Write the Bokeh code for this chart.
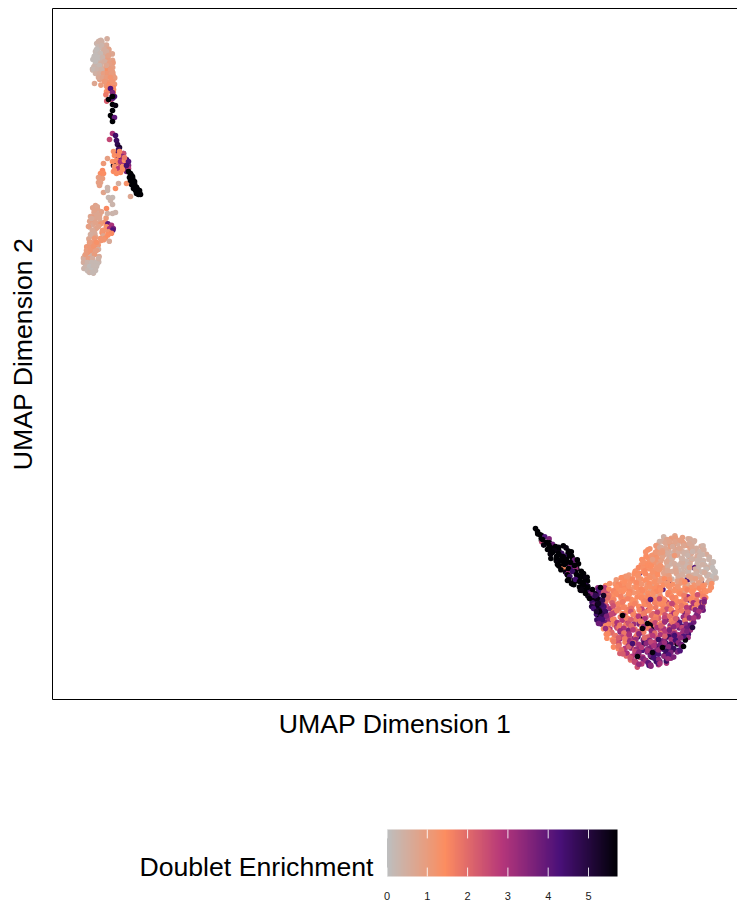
import numpy as np
from bokeh.plotting import figure
from bokeh.layouts import column
from bokeh.models import Range1d, LinearAxis, FixedTicker, LinearColorMapper, ColumnDataSource
from bokeh.core.properties import value
from bokeh.embed import file_html
from bokeh.resources import INLINE

FONT = "Liberation Sans"

# ---------- palette stops (enrichment value, colour) ----------
stop_vals = [0, 1.43, 2.86, 4.29, 5.72]
stop_rgb = [(190, 190, 190), (253, 141, 96), (181, 54, 122), (74, 16, 121), (0, 0, 4)]
tick_vals = [0, 1, 2, 3, 4, 5]

# ---------- main lobe: rows of cells ----------
blob_y = [162, 158, 154, 150, 146, 142, 138, 134, 130, 126, 122, 118, 114, 110, 106, 102, 98, 94, 90, 86, 82, 78, 74, 70, 66, 62, 58, 54, 50, 46, 42, 38, 34]
blob_x = [
 [612,618,624,630,636],
 [607,613,619,625,631,637,642],
 [603,609,616,621,627,634,640,647],
 [599,605,611,617,624,630,636,643,651],
 [594,600,607,613,619,626,632,638,645,654],
 [592,598,604,610,616,622,629,635,641,647,656],
 [590,596,602,608,614,620,627,633,639,646,652,658],
 [588,594,600,606,613,619,625,632,638,644,651,659],
 [584,590,597,603,609,616,622,628,635,641,647,653,661],
 [578,586,592,599,605,611,618,623,630,636,642,649,655,661],
 [570,577,584,590,596,603,609,615,621,628,634,640,647,653,660],
 [563,571,578,584,591,597,603,610,616,623,629,635,641,648,654,661],
 [554,561,568,574,581,587,593,600,606,612,618,625,631,637,644,650,658],
 [547,555,562,568,574,580,586,593,599,605,612,618,624,631,637,643,650,657],
 [544,550,557,563,570,576,582,589,595,601,608,614,620,627,633,639,646,655],
 [542,548,554,561,567,574,580,586,592,599,605,611,618,624,630,637,643,649,654],
 [542,547,553,560,566,572,578,585,591,597,604,610,616,622,629,635,641,647,652],
 [543,549,555,561,568,574,580,587,593,599,605,612,618,624,630,637,643,651],
 [545,550,556,563,569,575,581,588,594,600,607,613,619,625,632,638,644,649],
 [544,549,556,562,568,574,581,587,593,599,606,612,618,625,631,637,645],
 [545,551,557,563,570,576,582,588,595,601,607,613,620,626,632,639,644],
 [546,552,558,565,571,577,583,590,596,602,608,615,621,627,634,642],
 [548,554,560,566,573,579,585,591,598,604,610,616,623,629,635,639],
 [551,557,563,569,575,582,588,594,600,607,613,619,625,632,637],
 [553,560,566,572,578,584,591,597,603,609,616,622,628,635],
 [556,562,568,575,581,587,593,600,606,612,618,625,631,634],
 [559,565,571,577,584,590,596,602,609,615,621,627,632],
 [561,568,574,580,586,593,599,605,611,618,624,630],
 [565,571,577,584,590,596,602,609,615,621,627],
 [569,575,581,587,594,600,606,612,618,624],
 [573,579,586,592,598,604,610,616,620],
 [578,585,591,597,603,609,614],
 [584,590,595,600,606],
]
blob_v = [
 [.4,.9,.8,.9,.6],
 [.3,.5,1.1,.9,1.0,.7,.5],
 [1.0,.4,.7,1.1,.6,.9,.5,.6],
 [1.2,1.1,.6,.5,1.0,.4,.8,.5,.7],
 [1.3,1.2,1.1,.6,.4,.7,.5,1.0,.4,.6],
 [1.3,1.2,1.3,.9,.5,.6,.4,.8,.5,.3,.5],
 [1.4,1.3,1.2,1.0,.4,.6,.5,.3,.9,.3,.4,.6],
 [1.3,1.4,1.1,1.3,.8,.4,.7,.3,.5,.4,.3,.2],
 [1.2,1.5,1.3,1.2,1.1,.6,.5,.3,.6,4.2,.3,.5,.2],
 [1.1,4.2,1.4,1.2,1.3,1.0,.5,.7,.4,.3,.5,.3,.4,.1],
 [1.3,1.2,1.4,1.3,1.1,1.3,.9,.6,.4,.5,.3,.7,.4,.3,.1],
 [1.1,1.4,1.3,1.2,1.4,.9,1.3,1.2,4.6,.7,.6,4.3,.5,4.8,.6,.4],
 [1.4,1.2,1.5,1.3,1.1,1.4,1.2,.8,1.3,1.0,1.2,.9,1.1,.7,1.0,.8,1.1],
 [3.4,2.5,1.4,1.3,1.5,1.2,1.4,1.3,.9,1.4,4.2,1.1,1.3,1.2,1.0,1.4,1.5,1.3],
 [4.6,3.8,1.6,1.3,1.4,1.5,1.2,1.4,.8,1.3,1.1,1.4,1.2,1.3,1.0,1.3,1.2,1.4],
 [5.6,4.5,2.0,1.4,1.3,.8,1.5,1.3,1.4,1.2,.8,1.4,1.1,1.5,1.3,3.2,1.4,1.3,1.5],
 [5.2,4.8,1.8,1.5,1.2,1.4,1.3,1.1,1.5,1.4,1.2,1.3,3.0,1.4,1.5,4.0,1.3,3.6,1.4],
 [4.9,5.4,2.6,1.4,1.6,1.3,1.4,1.5,1.3,3.2,1.4,1.3,1.5,2.2,1.4,1.3,4.2,3.4],
 [5.6,4.4,3.2,1.5,1.4,1.7,1.3,1.5,2.8,1.4,1.4,3.5,1.6,2.4,1.5,3.2,1.4,3.8],
 [4.4,5.3,3.0,1.6,1.5,2.6,1.4,1.5,1.7,2.0,1.4,1.5,3.0,1.6,3.6,2.6,4.0],
 [5.7,4.8,2.8,1.7,1.5,1.4,1.9,5.6,2.4,1.5,2.2,1.4,1.7,3.2,4.4,1.6,3.4],
 [4.6,4.2,1.4,2.6,1.6,3.0,1.7,3.6,1.5,2.4,1.6,3.4,1.8,4.2,3.0,3.8],
 [4.0,3.2,1.8,3.4,1.7,2.2,3.6,1.5,5.6,2.0,1.6,3.2,2.6,4.4,3.6,4.2],
 [1.4,3.8,2.4,1.6,3.6,2.8,3.2,1.8,5.3,2.6,3.0,1.7,3.6,4.6,3.2],
 [1.5,2.6,3.4,2.2,3.2,1.8,3.6,2.4,3.8,1.7,3.2,4.2,3.0,4.4],
 [1.4,1.7,3.0,2.2,3.4,4.4,2.6,3.2,1.8,3.6,4.6,3.4,4.0,3.2],
 [1.4,2.4,1.6,3.2,2.6,3.6,4.2,2.8,3.4,4.6,3.0,4.8,5.6],
 [1.5,2.2,3.0,1.8,3.4,4.6,3.2,3.8,4.4,5.0,5.6,4.2],
 [1.6,2.8,3.4,2.2,4.2,3.2,3.6,4.6,4.2,5.2,4.4],
 [2.2,1.7,3.2,4.6,3.4,5.6,4.2,4.8,4.4,3.6],
 [2.0,3.0,2.6,3.6,5.4,4.2,5.0,4.4,3.4],
 [1.9,2.8,3.2,4.4,4.6,3.8,3.0],
 [2.4,2.8,4.4,3.6,3.0],
]
# fine position of each cell in its row, per digit (0-4, centred on 2)
blob_dx = ["13024","2403142","31420314","024130421","1302410342","40213024103","214031420314","302142031240",
 "1420314023142","03142403120314","214031240320143","3021403124021340","14203142031240312","024130421302413042",
 "314023140214031420","2031420314023140231","4120314021430124031","021340213042103421","3142031240312403142",
 "20314023142031402","41302142031240314","0241302140314201","3140214031240321","204130421302413","3142031402314",
 "02143024130214","314203124031","2041302140314","31402130421","0241302413","314031420","2041302","31402"]
blob_dy = ["20314","1320431","41203142","023140213","3140213042","02413042130","314023140214","203140241302",
 "4102314021340","13024130421304","402130421304213","1340213042130421","30241304213402130","214031420314203142",
 "041302413024130421","3210421304213042130","1042130421340213042","304213402130421340","1240314203140213042",
 "42130421304213042","03142031402314203","3140213042130421","2041302140314201","413042130421304","0213402130421",
 "32140213042130","104213042130","3402130421304","21304213042","0421304213","314021304","2041302","13042"]

# second pass over the lobe, rows in between the first ones
fill_y = [160,156,152,148,144,140,136,132,128,124,120,116,112,108,104,100,96,92,88,84,80,76,72,68,64,60,56,52,48,44,40,36]
fill_x = [
 [610,616,622,628,634,639],
 [606,612,618,624,630,636,642],
 [602,608,614,620,626,632,638,644,649],
 [597,603,609,615,621,628,634,640,647,653],
 [593,600,606,612,618,624,631,637,643,650,656],
 [591,597,603,609,615,621,628,634,640,646,652,658],
 [590,596,602,608,614,621,627,633,639,645,651,657,660],
 [586,592,598,605,611,617,623,629,635,642,648,654,660],
 [581,587,594,600,606,612,618,625,631,637,643,649,655,661],
 [574,581,587,593,600,606,612,618,624,630,637,643,649,655,661],
 [567,574,580,587,593,599,606,612,618,625,631,637,643,650,656,662],
 [558,565,571,578,584,590,596,603,609,615,621,628,634,640,646,653,660],
 [551,558,564,571,577,583,590,596,602,608,615,621,627,633,640,646,652,658],
 [546,552,559,565,571,578,584,590,597,603,609,615,622,628,634,640,647,653],
 [544,551,557,564,570,576,583,589,595,602,608,614,620,627,633,639,645,652],
 [544,550,556,563,569,575,582,588,594,601,607,613,619,626,632,638,645,651],
 [546,552,558,565,571,577,584,590,596,603,609,615,621,628,634,640,646,650],
 [547,553,559,566,572,578,585,591,597,604,610,616,623,629,635,641,647,650],
 [547,553,560,566,573,579,585,592,598,604,611,617,623,629,636,642,648],
 [548,554,560,567,573,579,586,592,598,605,611,617,624,630,636,642],
 [549,555,561,568,574,580,587,593,599,605,612,618,624,631,637,643],
 [551,557,563,569,576,582,588,594,601,607,613,620,626,632,638],
 [553,559,565,572,578,584,591,597,603,610,616,622,628,634],
 [554,560,567,573,579,586,592,598,604,611,617,623,630,636],
 [557,563,570,576,582,588,595,601,607,614,620,626,632],
 [560,566,573,579,585,592,598,604,610,617,623,629],
 [562,568,575,581,587,593,600,606,612,619,625,630],
 [565,571,578,584,590,597,603,609,616,622,628],
 [569,575,582,588,594,601,607,613,620,626],
 [572,578,585,591,597,603,610,616,622],
 [577,583,589,595,601,607,613,617],
 [582,588,594,599,605,609],
]
fill_v = [
 [.5,.8,1.0,.9,.6,.5],
 [.6,.7,1.0,.8,.9,.6,.5],
 [1.1,.6,.7,1.0,.5,.7,.6,.5,.4],
 [1.3,1.1,.9,.5,.7,.5,.4,.6,.3,.5],
 [1.4,1.2,1.0,.8,.5,.6,.4,.3,.6,.3,.4],
 [1.4,1.3,1.2,.9,.6,.4,.5,.3,.4,.5,.3,.3],
 [1.3,1.4,1.2,1.0,.7,.5,.4,.3,.5,.3,.2,.3,.2],
 [1.5,1.3,1.4,1.2,.9,.5,.6,.4,.3,.5,.3,.2,.1],
 [1.3,1.4,1.5,1.3,1.2,.8,.6,.7,.4,.3,.5,.3,.2,.1],
 [1.2,1.4,1.3,1.5,1.2,1.4,.9,1.0,.6,.5,.8,.4,.5,.3,.1],
 [1.4,1.3,1.5,1.2,1.4,1.3,1.1,1.4,1.2,.9,1.1,.8,.9,.7,.5,.3],
 [1.3,1.5,1.4,1.3,1.5,1.2,1.4,1.3,1.4,1.2,1.3,1.1,1.4,1.2,1.0,1.1,1.3],
 [2.8,1.5,1.4,1.5,1.3,1.4,1.5,1.3,1.4,1.5,1.3,1.4,1.2,1.4,1.3,1.5,1.4,1.3],
 [4.2,2.4,1.6,1.5,1.4,1.5,1.3,1.5,1.4,1.5,1.4,1.5,1.3,1.4,1.6,1.4,1.5,1.4],
 [5.7,4.2,1.8,1.5,1.6,1.4,1.5,1.4,1.5,1.3,1.5,1.6,1.4,1.5,1.7,1.4,2.4,1.6],
 [5.6,4.8,2.0,1.6,1.5,1.6,1.4,1.5,1.6,1.4,2.4,1.5,1.6,1.5,2.0,1.5,1.7,3.0],
 [5.0,3.6,2.2,1.6,1.7,1.5,1.6,1.5,1.7,1.6,1.5,1.7,2.6,1.6,1.5,3.0,1.6,3.6],
 [4.6,4.4,2.4,1.7,1.6,1.9,1.5,2.6,1.6,1.7,1.6,2.4,1.5,1.8,2.8,1.6,3.2,3.8],
 [5.3,4.6,2.8,1.7,1.5,2.4,1.6,1.8,1.6,2.6,1.7,1.6,3.0,1.7,2.2,3.4,3.0],
 [4.8,3.6,2.6,1.8,3.0,1.6,2.8,1.7,2.0,1.6,2.4,1.8,1.6,3.2,2.4,3.6],
 [4.4,3.2,1.6,2.8,1.7,2.2,1.6,3.0,1.8,1.7,2.6,1.6,2.2,1.8,3.4,3.0],
 [3.8,1.6,3.0,1.8,2.4,3.2,1.7,2.0,2.6,1.6,3.2,1.8,2.8,3.4,4.0],
 [1.5,2.8,1.7,3.0,2.0,1.8,3.2,1.7,3.0,2.2,1.8,3.4,2.6,3.8],
 [1.5,2.0,3.2,1.8,2.8,2.2,1.7,3.4,2.0,2.8,3.6,2.4,3.2,3.6],
 [1.5,1.8,2.6,3.0,1.8,3.4,2.2,2.8,3.0,2.2,3.4,3.0,4.2],
 [1.6,2.2,1.7,2.8,3.2,2.0,3.4,2.6,3.6,3.0,4.4,3.4],
 [1.7,2.4,3.0,2.0,3.0,3.4,2.6,3.8,3.2,4.6,3.4,3.8],
 [1.8,2.8,2.2,3.2,2.8,3.6,3.0,4.2,3.4,4.6,3.6],
 [2.0,3.0,2.6,3.4,3.0,4.0,3.2,4.6,3.6,4.2],
 [2.2,2.8,3.4,3.0,3.8,4.4,3.4,4.2,3.6],
 [2.4,3.0,3.6,3.2,4.4,3.4,4.6,3.2],
 [2.6,3.2,4.0,3.4,4.2,3.0],
]

# cells that overlap the rows above
extra_x = [548,551,549,547,550,546,553,600,608,615,622,630,637,645,652,610,620,630,640,650,617,627,637,647]
extra_y = [112,104,95,88,80,76,71,140,134,129,144,137,132,139,127,147,153,141,148,135,158,151,156,143]
extra_v = [5.7,5.3,4.6,5.6,4.4,3.8,3.2,.9,1.2,.7,1.1,.5,.8,.3,.5,1.0,.6,.4,.3,.4,.8,.7,.6,.3]
speck_x = [595,590,610,631,600,585,570,606,622,580,640,598]
speck_y = [76,71,52,53,47,43,84,60,64,56,72,100]
speck_v = [5.7,5.6,5.7,5.7,5.6,5.6,5.7,4.6,4.4,4.4,5.0,4.2]

# ---------- elongated trail to the upper left of the lobe ----------
trail_y = [171,168,165,162,159,156,153,150,147,144,141,138,135,132,129,126,123,120,117,114,111,108,105,102,99,96,93]
trail_x = [
 [483],[485],[486,488],[488,493],[489,491,495],[492,496,500],[495,498,503,507,510],
 [495,499,504,508,512,516],[497,501,506,510,514,518],[499,503,508,512,516,520],
 [500,504,510,514,518,522],[503,506,512,516,520,524],[505,508,514,518,523,526],
 [508,512,516,521,526],[510,513,520,524,528],[513,517,522,526,531],
 [515,519,524,529,533],[517,521,526,531,535],[519,524,528,533],[523,527,532,536],
 [527,531,535,537],[533,537,541],[535,539],[537,540],[538,541],[540,543],[540,544],
]
trail_v = [
 [5.7],[5.7],[5.7,5.6],[5.7,4.2],[5.7,2.6,3.6],[5.6,5.7,3.8],[5.7,5.7,5.7,5.6,5.7],
 [5.7,5.6,5.7,5.7,5.6,5.7],[5.7,5.7,5.6,4.6,5.7,5.7],[5.6,5.7,5.7,4.4,5.7,5.7],
 [5.7,5.7,5.6,5.7,5.7,3.8],[5.7,5.6,5.7,5.7,4.6,5.7],[5.7,5.7,5.7,5.6,5.7,5.7],
 [5.7,1.5,3.4,4.2,5.7],[5.7,5.6,4.0,3.2,5.7],[4.2,3.0,5.7,5.6,5.7],
 [5.7,4.6,3.8,5.7,5.7],[5.6,5.7,5.7,5.6,5.7],[5.7,5.7,5.6,5.7],[5.7,5.7,4.6,5.7],
 [5.7,5.6,5.2,4.4],[5.7,4.8,5.3],[4.6,3.6],[5.4,4.4],[4.2,5.6],[4.6,3.8],[5.0,5.5],
]
trail_dx = ["2","2","13","31","204","132","40213","213042","302143","140231","023142","312403","204132","31420","02413","41302","20314","13042","3140","0241","3120","142","31","02","41","20","13"]
trail_dy = ["2","2","31","13","042","310","13042","402130","130421","214031","302140","043120","132041","20413","41302","02134","31420","40213","1304","2130","4102","203","13","41","02","30","24"]
trail2_x = [487,490,494,498,502,506,510,514,518,522,500,504,508,512,516,520,524,528,515,519,523,527,531,535,529,533,537,540,543,546,541,544]
trail2_y = [165,160,157,152,149,146,143,140,137,134,147,143,139,135,131,128,125,122,119,116,120,118,115,112,109,106,101,110,104,96,91,88]
trail2_v = [5.7,5.7,5.7,5.7,5.6,5.7,5.7,5.7,5.7,5.7,5.7,5.7,5.7,5.7,5.7,4.6,5.7,5.7,5.7,5.7,4.4,5.7,5.7,5.7,5.6,5.7,5.7,5.7,4.8,5.4,4.4,5.2]

# ---------- upper left island ----------
head_y = [660,656,652,648,644,640,636,632,628,624,620,616,612,608,604,600]
head_x = [
 [47,50,53],[45,48,51,54],[44,47,50,53,56],[43,46,49,52,55,58],[41,44,47,50,53,56,59],
 [42,45,48,51,54,57,60],[41,44,47,50,53,56,59],[40,43,46,49,52,55,58,61],[41,44,47,50,53,56,59,62],
 [45,48,52,55,58,61],[48,51,54,57,60,63],[42,50,53,56,59,62],[53,56,59,62],[54,57,60],[55,58,61],[55,58,62],
]
head_v = [
 [.4,.4,.5],[.3,.3,.4,.6],[.2,.2,.5,.6,.7],[.2,.2,.3,.5,.7,.8],[.1,.1,.2,.4,.6,.8,.7],
 [.1,.2,.3,.4,.7,.9,.8],[.2,.3,.4,.5,.6,.9,1.0],[.1,.3,.4,.5,.8,.9,1.0,.9],[.4,.5,.6,1.0,.8,1.3,.9,1.0],
 [.6,.8,.9,1.2,1.0,1.1],[.9,1.0,1.1,1.3,1.1,1.0],[.7,1.0,1.2,1.4,1.3,1.1],[1.1,1.3,1.5,1.4],[1.3,1.6,1.5],[1.8,3.8,2.0],[2.2,2.6,4.2],
]
head2_x = [46,49,52,44,48,54,42,46,50,56,43,47,52,57,41,45,49,54,58,43,47,51,55,59,46,50,54,58,52,56,60,61]
head2_y = [658,654,650,650,646,648,642,642,642,644,638,634,638,636,630,630,630,634,630,626,626,626,626,626,622,622,622,622,618,614,618,610]
head2_v = [.4,.3,.5,.1,.2,.5,.1,.1,.3,.8,.1,.2,.5,.9,.2,.3,.4,.7,1.0,.4,.5,.9,1.1,1.0,.6,.8,1.0,1.2,1.1,1.3,1.2,1.4]
neck_x = [58,60,62,60,56,60,63,60,58,60,62,60,60,63,64,65,57,67,66]
neck_y = [611,607,603,603,600,595,594,589,584,582,582,578,566,564,559,555,560,552,550]
neck_v = [4.2,3.6,4.4,5.7,5.7,5.7,5.6,5.7,5.7,5.7,4.0,5.7,3.0,4.5,4.6,4.8,2.6,5.2,4.6]

# ---------- middle cluster, black tail and loose cells ----------
mid_x = [61,71,66,65,71,75,76,71,63,68,63,68,74,61,76,67,61,70,72,64]
mid_y = [548,546,547,542,546,536,534,537,536,535,531,535,531,528,531,548,534,534,536,544]
mid_v = [1.3,4.5,4.5,4.0,2.5,5.0,3.5,1.3,1.5,1.4,3.0,2.0,4.5,1.4,2.8,1.5,5.3,4.6,3.2,4.2]
mid2_x = [62,66,70,74,60,64,68,72,76,62,66,70,74,66,70,62,74,72,68,64]
mid2_y = [544,541,543,540,538,539,538,539,538,533,531,533,528,544,530,529,534,542,527,526]
mid2_v = [1.4,4.0,3.4,4.6,1.4,1.5,3.0,1.4,4.2,1.3,2.8,1.4,3.8,1.5,1.4,1.5,4.4,1.8,1.5,1.4]
tail_x = [78,80,77,79,81,79,82,84,81,83,85,87,84,86,80,82,85,83,78,74,79,76,78,80,82,84,86,78,81,83,85,87,88]
tail_y = [526,523,522,519,517,515,514,512,511,509,508,507,506,505,521,518,510,513,503,516,524,528,525,521,516,512,508,519,513,511,506,509,505]
tail_v = [5.7,5.7,5.7,5.7,5.7,5.7,5.7,5.7,5.7,5.7,5.7,5.7,5.7,5.7,5.6,5.7,5.7,5.6,.7,1.3,5.7,5.7,5.7,5.7,5.7,5.7,5.7,5.7,5.7,5.7,5.7,5.7,5.7]
loose_x = [55,51,50,48,51,46,50,48,46,47,55,51,55,66,63,56,60,58,60,54,63,60,55]
loose_y = [541,536,529,526,526,522,521,517,517,514,512,507,509,516,511,502,502,499,495,491,487,486,486]
loose_v = [.9,1.1,1.5,1.4,1.4,.9,1.0,.8,.9,.9,.3,.8,.3,.5,1.4,.2,.2,.3,.3,1.5,.3,.3,.4]

# ---------- lower left island ----------
low_y = [494,491,487,483,479,475,471,467,463,459,455,451,447,443,439,435,431,428]
low_x = [
 [43],[41,44,47],[40,43,47,49],[38,41,45,48,52],[38,41,44,48,51,55],[39,42,46,49,53,57,59],
 [38,42,46,50,54,58,60,62],[40,44,48,51,55,59],[40,44,49,53,57],[38,43,47,52,56],[36,40,44,47],
 [35,39,42,46],[33,36,40,44],[31,34,37,41,45],[32,35,38,41,44,47],[32,35,38,41,44],[33,36,39,42],[34,37,41],
]
low_v = [
 [.8],[.8,.7,.8],[.9,.7,.6,.8],[.7,.9,.6,.8,1.0],[.8,1.0,.7,.6,1.2],[.9,.7,.6,1.1,1.3,4.0,3.0],
 [.5,.7,.8,.9,1.3,3.0,3.6,4.2],[.4,.6,1.1,1.4,1.2,1.5],[.6,.8,.7,1.3,1.4],[.7,.4,1.2,1.2,.6],[1.0,1.1,1.3,1.0],
 [1.1,1.2,1.0,.5],[1.0,1.1,1.2,.7],[.8,.7,.3,.4,.6],[.5,.3,.2,.3,.4,.3],[.3,.2,.1,.2,.2],[.3,.2,.1,.2],[.3,.2,.3],
]
low_dx = ["2","130","4102","20314","130241","4021302","13042130","204132","31420","02413","3140","1302","4120","20314","132041","40213","0241","312"]
low_dy = ["2","403","1320","40213","021340","3142031","20413042","314021","04213","31402","1304","2140","0312","42031","204132","13042","3120","204"]
head_dx = ["204","1302","41302","204130","3140213","0241302","4120314","20314021","13042130","402132","130421","204132","3140","213","042","130"]
head_dy = ["130","4021","20314","142031","0413024","3120413","1304213","42031402","20413024","314021","042130","312041","2041","312","103","240"]
low2_x = [42,45,39,43,47,36,40,46,50,38,42,37,44,48,41,34,38,42,33,36,40,44,31,35,39,43,46,33,37,41,44,35,39,43,37,40]
low2_y = [489,485,481,477,481,473,469,473,469,465,461,457,457,461,453,449,449,445,445,441,441,449,437,437,437,437,441,433,433,433,433,429,429,429,427,427]
low2_v = [.8,.7,.6,.8,.7,.9,.6,.8,1.2,.5,1.1,1.0,1.3,1.2,1.2,1.0,1.1,1.0,1.0,.9,.5,.9,.5,.3,.2,.2,.4,.3,.1,.2,.2,.2,.1,.2,.3,.2]

cell_x, cell_y, cell_v = [], [], []
for ys, xs, vs, dxs, dys in [(blob_y, blob_x, blob_v, blob_dx, blob_dy),
                             (fill_y, fill_x, fill_v, blob_dy, blob_dx),
                             (trail_y, trail_x, trail_v, trail_dx, trail_dy),
                             (head_y, head_x, head_v, head_dx, head_dy),
                             (low_y, low_x, low_v, low_dx, low_dy)]:
    for y, rx, rv, dx, dy in zip(ys, xs, vs, dxs, dys):
        for k, (a, b) in enumerate(zip(rx, rv)):
            cell_x.append(a + (int(dx[k % len(dx)]) - 2) * 0.8)
            cell_y.append(y + (int(dy[(k + 2) % len(dy)]) - 2) * 0.8)
            cell_v.append(b)
for xs, ys, vs in [(extra_x, extra_y, extra_v), (speck_x, speck_y, speck_v), (trail2_x, trail2_y, trail2_v),
                   (head2_x, head2_y, head2_v), (low2_x, low2_y, low2_v), (neck_x, neck_y, neck_v),
                   (loose_x, loose_y, loose_v), (mid_x, mid_y, mid_v), (mid2_x, mid2_y, mid2_v), (tail_x, tail_y, tail_v)]:
    cell_x += xs
    cell_y += ys
    cell_v += vs

# continuous colour ramp through the stops
ramp_pos = np.linspace(0, 5.72, 256)
palette = []
for t in ramp_pos:
    c = [np.interp(t, stop_vals, [s[i] for s in stop_rgb]) for i in range(3)]
    palette.append("#%02x%02x%02x" % tuple(int(round(k)) for k in c))
mapper = LinearColorMapper(palette=palette, low=0, high=5.72)

src = ColumnDataSource(dict(x=cell_x, y=cell_y, v=cell_v))

p = figure(width=737, height=752, output_backend="svg", toolbar_location=None,
           x_range=Range1d(0, 685), y_range=Range1d(0, 691),
           min_border_left=52, min_border_right=0, min_border_top=8, min_border_bottom=53,
           x_axis_label="UMAP Dimension 1", y_axis_label="UMAP Dimension 2")
p.grid.visible = False
p.outline_line_color = None
top_axis = LinearAxis()
p.add_layout(top_axis, "above")
x_axis, y_axis = p.below[0], p.left[0]
for ax in [x_axis, y_axis, top_axis]:
    ax.ticker = FixedTicker(ticks=[])
    ax.major_tick_line_color = None
    ax.minor_tick_line_color = None
    ax.major_label_text_font_size = "0px"
    ax.axis_line_color = "#000000"
    ax.axis_line_width = 1
    ax.axis_label_text_font = FONT
    ax.axis_label_text_font_size = "26.67px"
    ax.axis_label_text_font_style = "normal"
    ax.axis_label_text_color = "#000000"
x_axis.axis_label_standoff = 9
y_axis.axis_label_standoff = 15
p.scatter("x", "y", source=src, size=5.6, line_color=None,
          fill_color={"field": "v", "transform": mapper})

# ---------- legend ----------
leg = figure(width=737, height=150, output_backend="svg", toolbar_location=None,
             x_range=Range1d((52 - 386.5) / 40.3, (737 - 386.5) / 40.3),
             y_range=Range1d(-4 / 47, 124 / 47),
             min_border_left=0, min_border_right=0, min_border_top=0, min_border_bottom=22)
leg.grid.visible = False
leg.outline_line_color = None
leg.yaxis.visible = False
leg.image(image=[np.linspace(0, 5.72, 256).reshape(1, 256)], x=0, y=0, dw=5.72, dh=1, color_mapper=mapper)
leg.segment(x0=tick_vals, y0=[0] * 6, x1=tick_vals, y1=[0.19] * 6, line_color="#ffffff", line_width=1, line_alpha=0.85)
leg.segment(x0=tick_vals, y0=[0.81] * 6, x1=tick_vals, y1=[1] * 6, line_color="#ffffff", line_width=1, line_alpha=0.85)
leg.xaxis.ticker = FixedTicker(ticks=tick_vals)
leg.xaxis.axis_line_color = None
leg.xaxis.major_tick_line_color = None
leg.xaxis.minor_tick_line_color = None
leg.xaxis.major_label_text_font = FONT
leg.xaxis.major_label_text_font_size = "11px"
leg.xaxis.major_label_text_color = "#1a1a1a"
leg.xaxis.major_label_standoff = 5
leg.text(x=[-0.335], y=[0.21], text=["Doublet Enrichment"], text_font=value(FONT), text_font_size="26.67px",
         text_align="right", text_baseline="middle", text_color="#000000")

page = column(p, leg, spacing=0)
open("out.html", "w").write(file_html(page, INLINE))
